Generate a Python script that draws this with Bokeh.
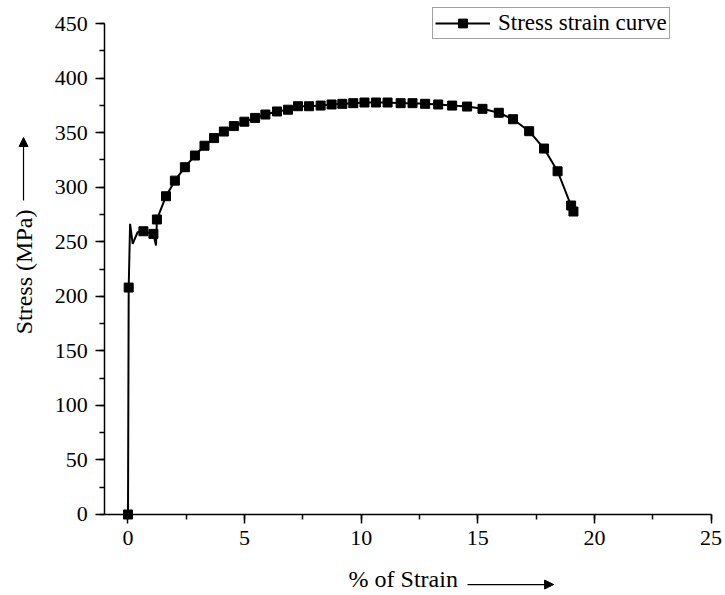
from bokeh.plotting import figure
from bokeh.models import (Range1d, SingleIntervalTicker, Legend, LegendItem, Label, Arrow, NormalHead)
from bokeh.embed import file_html
from bokeh.resources import INLINE

# ---- data ----
# strain (%) and stress (MPa) at the plotted markers
marker_strain = [0.0, 0.03, 0.66, 1.09, 1.24, 1.63, 2.01, 2.44, 2.87, 3.28, 3.69, 4.11,
                 4.54, 4.99, 5.45, 5.89, 6.39, 6.86, 7.29, 7.76, 8.26, 8.73, 9.19, 9.66,
                 10.14, 10.63, 11.13, 11.69, 12.20, 12.74, 13.30, 13.90, 14.54, 15.20,
                 15.90, 16.51, 17.20, 17.84, 18.42, 19.00, 19.10]
marker_stress = [0, 208, 259.6, 257.2, 270.4, 291.7, 306, 318.3, 329, 338, 345, 351,
                 356, 360, 363.5, 366.6, 369.4, 371, 374.2, 374.2, 374.8, 375.8, 376.4, 377,
                 377.6, 377.6, 377.6, 377, 377, 376.4, 375.8, 374.8, 373.9, 371.8,
                 368.2, 362.3, 351.3, 335.4, 314.6, 283.2, 277.7]

# extra recorded points of the curve around the yield region (no markers)
yield_strain = [0.09, 0.20, 0.41, 1.20]
yield_stress = [266.4, 248.0, 258.7, 246.5]

series_label = "Stress strain curve"
x_label = "% of Strain"
y_label = "Stress (MPa)"

# axis extents
x_min, x_max = -1, 25
y_min, y_max = 0, 450

# full curve = markers + yield-region points, ordered along the test
curve = sorted(list(zip(marker_strain, marker_stress)) + list(zip(yield_strain, yield_stress)),
               key=lambda t: t[0])
curve_strain = [c[0] for c in curve]
curve_stress = [c[1] for c in curve]

LEGEND_FONT = "Liberation Serif"
TEXT_FONT = "serif"

# The frame covers the whole canvas; axes are fixed at data positions inside it,
# so that titles, arrows and the legend can sit around the axes.
p = figure(width=725, height=595, output_backend="svg", toolbar_location=None,
           x_range=Range1d(-5.467, 25.62), y_range=Range1d(-74.24, 471.1),
           min_border=0, min_border_left=0, min_border_right=0,
           min_border_top=0, min_border_bottom=0)
p.outline_line_color = None
p.grid.grid_line_color = None
p.background_fill_color = "white"
p.border_fill_color = "white"

p.xaxis.fixed_location = y_min
p.yaxis.fixed_location = x_min
p.xaxis.bounds = (x_min, x_max)
p.yaxis.bounds = (y_min, y_max)
p.xaxis.ticker = SingleIntervalTicker(interval=5, num_minor_ticks=2)
p.yaxis.ticker = SingleIntervalTicker(interval=50, num_minor_ticks=2)
for ax in (p.xaxis[0], p.yaxis[0]):
    ax.axis_line_width = 1.5
    ax.axis_line_color = "black"
    ax.major_tick_line_color = "black"
    ax.minor_tick_line_color = "black"
    ax.major_tick_line_width = 1.5
    ax.minor_tick_line_width = 1.5
    ax.major_tick_out = 9
    ax.major_tick_in = 0
    ax.minor_tick_out = 5
    ax.minor_tick_in = 0
    ax.major_label_text_font = TEXT_FONT
    ax.major_label_text_font_size = "22px"
    ax.major_label_text_color = "black"
    ax.major_label_standoff = 8

line_r = p.line(curve_strain, curve_stress, line_color="black", line_width=2)
mark_r = p.scatter(marker_strain, marker_stress, marker="square", size=9,
                   fill_color="black", line_color="black")

legend = Legend(items=[LegendItem(label=series_label, renderers=[line_r, mark_r])],
                location=(432, 556), orientation="vertical",
                label_text_font=LEGEND_FONT, label_text_font_size="23px", label_text_color="black",
                glyph_width=55, glyph_height=22, label_standoff=8, padding=2, margin=0,
                spacing=0, border_line_color="#444444", border_line_width=1,
                background_fill_alpha=1.0)
p.add_layout(legend, "center")

# axis titles with arrows
p.add_layout(Label(x=9.46, y=-58.7, text=x_label, text_font=TEXT_FONT,
                   text_font_size="24px", text_color="black", text_baseline="middle",
                   text_align="left"))
p.add_layout(Arrow(x_start=14.56, y_start=-64.2, x_end=18.25, y_end=-64.2,
                   line_color="black", line_width=1.2,
                   end=NormalHead(size=9, fill_color="black", line_color="black")))

p.add_layout(Label(x=-4.48, y=222.3, text=y_label, text_font=TEXT_FONT, text_font_size="24px",
                   text_color="black", text_baseline="middle", text_align="center",
                   angle=90, angle_units="deg"))
p.add_layout(Arrow(x_start=-4.48, y_start=287.8, x_end=-4.48, y_end=345.5,
                   line_color="black", line_width=1.2,
                   end=NormalHead(size=9, fill_color="black", line_color="black")))

open("out.html", "w").write(file_html(p, INLINE))
